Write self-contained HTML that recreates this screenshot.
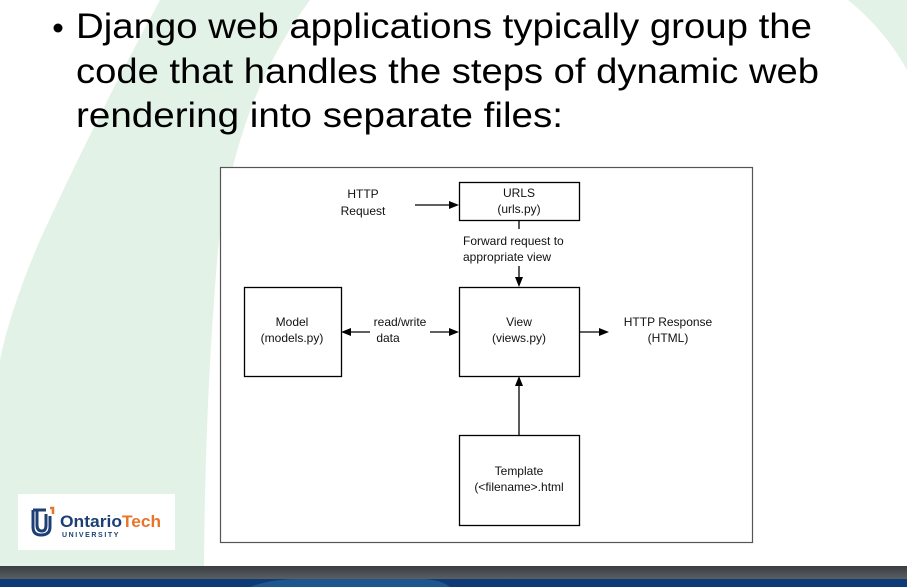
<!DOCTYPE html>
<html><head><meta charset="utf-8"><style>
html,body{margin:0;padding:0;background:#fff;}
svg{display:block;}
</style></head><body>
<svg width="907" height="587" viewBox="0 0 907 587" xmlns="http://www.w3.org/2000/svg">
<rect width="907" height="587" fill="#fff"/>
<path d="M160,0 Q95,120 40,240 Q10,310 0,360 L0,566 L204,566 Q205,400 218,250 Q235,100 310,0 Z" fill="#e2f2e7"/>
<path d="M848,0 Q885,30 907,70 L907,0 Z" fill="#e2f2e7"/>
<g font-family="'Liberation Sans',sans-serif" font-size="35" fill="#000">
<circle cx="58" cy="28" r="4.5"/>
<text x="76" y="38" textLength="736" lengthAdjust="spacingAndGlyphs">Django web applications typically group the</text>
<text x="76" y="83" textLength="743" lengthAdjust="spacingAndGlyphs">code that handles the steps of dynamic web</text>
<text x="76" y="127" textLength="487" lengthAdjust="spacingAndGlyphs">rendering into separate files:</text>
</g>
<rect x="220.5" y="167.5" width="532" height="375" fill="#fff" stroke="#555" stroke-width="1.2"/>
<g fill="#fff" stroke="#000" stroke-width="1.3">
<rect x="459.5" y="182.5" width="120" height="38"/>
<rect x="459.5" y="287.5" width="120" height="89"/>
<rect x="244.5" y="287.5" width="97" height="89"/>
<rect x="459.5" y="435.5" width="120" height="90"/>
</g>
<g stroke="#000" stroke-width="1.3">
<line x1="415" y1="205" x2="452" y2="205"/>
<line x1="519" y1="221" x2="519" y2="229"/>
<line x1="519" y1="266" x2="519" y2="280"/>
<line x1="348" y1="332" x2="370" y2="332"/>
<line x1="430" y1="332" x2="452" y2="332"/>
<line x1="580" y1="332" x2="602" y2="332"/>
<line x1="519" y1="435" x2="519" y2="383"/>
</g>
<g fill="#000">
<polygon points="459,205 449,201 449,209"/>
<polygon points="519,287 515,277 523,277"/>
<polygon points="341,332 351,328 351,336"/>
<polygon points="459,332 449,328 449,336"/>
<polygon points="609,332 599,328 599,336"/>
<polygon points="519,376 515,386 523,386"/>
</g>
<g font-family="'Liberation Sans',sans-serif" font-size="12" fill="#111" text-anchor="middle">
<text x="363" y="198">HTTP</text><text x="363" y="215">Request</text>
<text x="519" y="197">URLS</text><text x="519" y="213">(urls.py)</text>
<text x="463" y="245" text-anchor="start">Forward request to</text>
<text x="463" y="261" text-anchor="start">appropriate view</text>
<text x="292" y="326">Model</text><text x="292" y="342">(models.py)</text>
<text x="400" y="326">read/write</text><text x="388" y="342">data</text>
<text x="519" y="326">View</text><text x="519" y="342">(views.py)</text>
<text x="668" y="326">HTTP Response</text><text x="668" y="342">(HTML)</text>
<text x="519" y="475">Template</text><text x="519" y="491">(&lt;filename&gt;.html</text>
</g>
<rect x="18" y="494" width="157" height="56" fill="#fff"/>
<path d="M33,510 L33,527 Q33,535 41,535 Q50,535 50,527 L50,516 M37,510 L37,525 Q37,531 42,531 Q46,531 46,525 L46,514" fill="none" stroke="#1d3f75" stroke-width="3"/>
<path d="M33,510 L46,510" stroke="#1d3f75" stroke-width="3"/>
<path d="M50,508 L53,508 L53,514" stroke="#e8742a" stroke-width="2.5" fill="none"/>
<text x="60" y="527" font-family="'Liberation Sans',sans-serif" font-size="17" font-weight="bold" fill="#1d3f75" textLength="62" lengthAdjust="spacingAndGlyphs">Ontario</text>
<text x="122" y="527" font-family="'Liberation Sans',sans-serif" font-size="17" font-weight="bold" fill="#e8742a" textLength="39" lengthAdjust="spacingAndGlyphs">Tech</text>
<text x="62" y="537" font-family="'Liberation Sans',sans-serif" font-size="7" font-weight="bold" fill="#1d3f75" letter-spacing="1.6">UNIVERSITY</text>
<defs><linearGradient id="g" x1="0" y1="0" x2="0" y2="1"><stop offset="0" stop-color="#3a3e42"/><stop offset="1" stop-color="#5a5f63"/></linearGradient></defs>
<rect x="0" y="566" width="907" height="13" fill="url(#g)"/>
<rect x="0" y="579" width="907" height="8" fill="#0e3a78"/>
<path d="M250,587 Q270,579 300,579 L420,579 Q440,579 450,587 Z" fill="#1e5690"/>
</svg>
</body></html>
